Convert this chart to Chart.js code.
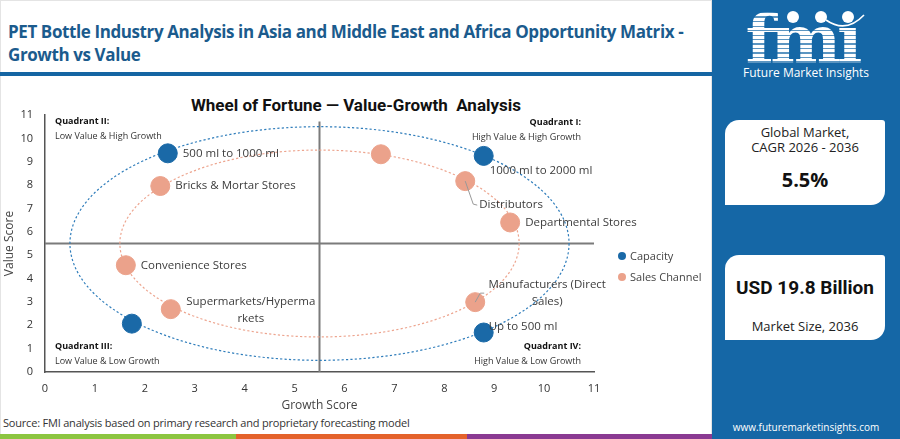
<!DOCTYPE html>
<html><head><meta charset="utf-8">
<script src="https://cdn.jsdelivr.net/npm/chart.js@4.4.1/dist/chart.umd.min.js"></script>
<style>
html,body{margin:0;padding:0;width:900px;height:439px;overflow:hidden;background:#fff;font-family:"Open Sans",sans-serif;}
#left{position:absolute;left:0;top:0;width:712px;height:439px;border:1px solid #e4e4e4;box-sizing:border-box}
#hdr{position:absolute;left:8px;top:20px;font-weight:700;font-size:17px;color:#1b5b8d;line-height:23px;letter-spacing:-0.4px;white-space:nowrap}
#rule{position:absolute;left:0;top:72px;width:712px;height:4px;background:#1565a3}
#ctitle{position:absolute;left:100px;width:512px;text-align:center;top:94px;font-weight:700;font-size:17px;color:#111;font-family:Roboto,sans-serif;line-height:22px}
#chartbox{position:absolute;left:0;top:85px;width:712px;height:330px}
#legend{position:absolute;left:618px;top:245px;font-size:11px;color:#444;font-family:"Open Sans",sans-serif}
#legend div{height:21px;display:flex;align-items:center}
#legend span.d{display:inline-block;width:8px;height:8px;border-radius:50%;margin-right:4px}
#src{position:absolute;left:3px;top:415px;font-size:11px;color:#333;letter-spacing:-0.2px}
.bar{position:absolute;top:434px;height:5px}
#panel{position:absolute;left:712px;top:0;width:188px;height:439px;background:#1567a6}
#logo{position:absolute;left:25px;top:0px;width:130px;text-align:center;font-family:"DejaVu Serif",serif;font-weight:700;font-size:67px;line-height:80px;letter-spacing:-4px;
 background:repeating-linear-gradient(#fff 0 3px, rgba(255,255,255,0.3) 3px 4.5px);-webkit-background-clip:text;background-clip:text;color:transparent}
.dot{position:absolute;width:12px;height:12px;border-radius:50%;background:#fff}
#fmitxt{position:absolute;left:0;width:188px;top:64px;text-align:center;color:#fff;font-size:12px}
.card{position:absolute;left:13px;width:160px;height:85px;background:#fff;border-radius:14px 3px 14px 0;text-align:center;color:#222}
#web{position:absolute;left:0;width:188px;top:420px;text-align:center;color:#fff;font-size:10px}
</style></head>
<body>
<div id="left"></div>
<div id="hdr">PET Bottle Industry Analysis in Asia and Middle East and Africa Opportunity Matrix -<br>Growth vs Value</div>
<div id="rule"></div>
<div id="ctitle">Wheel of Fortune — Value-Growth&nbsp; Analysis</div>
<div id="chartbox"><canvas id="c"></canvas></div>
<div id="legend"></div>
<div id="src">Source: FMI analysis based on primary research and proprietary forecasting model</div>
<div class="bar" style="left:0;width:236px;background:#8cc540"></div>
<div class="bar" style="left:236px;width:231px;background:#e4622b"></div>
<div class="bar" style="left:467px;width:245px;background:#8a3a92"></div>
<div id="panel">
  <div id="logo">fmı</div>
  <div class="dot" style="left:75px;top:11px"></div>
  <div class="dot" style="left:103px;top:11px"></div>
  <div class="dot" style="left:130px;top:11px"></div>
  <svg style="position:absolute;left:0;top:0" width="188" height="40"><path d="M114 20 Q 134 34 152 15" stroke="#fff" stroke-width="1.6" fill="none"/></svg>
  <div id="fmitxt">Future Market Insights</div>
  <div class="card" style="top:120px">
    <div style="font-size:13px;line-height:15px;margin-top:5px">Global Market,<br>CAGR 2026 - 2036</div>
    <div style="font-size:20px;font-weight:700;margin-top:11px;color:#111">5.5%</div>
  </div>
  <div class="card" style="top:255px">
    <div style="font-size:19px;font-weight:700;margin-top:21px;color:#111;font-family:Roboto,sans-serif">USD 19.8 Billion</div>
    <div style="font-size:13px;margin-top:18px">Market Size, 2036</div>
  </div>
  <div id="web">www.futuremarketinsights.com</div>
</div>
<script>
// ---- data ----
const growthTicks = [0,1,2,3,4,5,6,7,8,9,10,11];
const valueTicks = [0,1,2,3,4,5,6,7,8,9,10,11];
const capacityNames  = ["500 ml to 1000 ml", "1000 ml to 2000 ml", "Up to 500 ml", ""];
const capacityGrowth = [2.46, 8.79, 8.79, 1.74];
const capacityValue  = [9.36, 9.25, 1.69, 2.07];
const channelNames  = ["", "Distributors", "Departmental Stores", "Manufacturers (Direct Sales)", "Supermarkets/Hypermarkets", "Convenience Stores", "Bricks & Mortar Stores"];
const channelGrowth = [6.73, 8.42, 9.32, 8.62, 2.52, 1.62, 2.31];
const channelValue  = [9.32, 8.17, 6.40, 2.99, 2.69, 4.57, 7.96];
const quadrantSplit = [5.5, 5.5];
const ringRadii = [5, 4];
const seriesNames = ["Capacity", "Sales Channel"];
const quadrantTitles = ["Quadrant I:", "Quadrant II:", "Quadrant III:", "Quadrant IV:"];
const quadrantNotes = ["High Value & High Growth", "Low Value & High Growth", "Low Value & Low Growth", "High Value & Low Growth"];

// ---- style ----
const BLUE = "#1a69a7", ORANGE = "#eba28b";
const labelPlace = {
  "500 ml to 1000 ml": {dx:15, dy:0, align:"left"},
  "1000 ml to 2000 ml": {dx:6, dy:15, align:"left"},
  "Up to 500 ml": {dx:5, dy:-6, align:"left"},
  "Distributors": {dx:14, dy:24, align:"left", leader:[[0,0],[8,23],[12,24]]},
  "Departmental Stores": {dx:15, dy:0, align:"left"},
  "Manufacturers (Direct Sales)": {dx:72, dy:-17, align:"center", lines:["Manufacturers (Direct","Sales)"], leader:[[0,0],[5,-9],[9,-9]]},
  "Supermarkets/Hypermarkets": {dx:80, dy:-7, align:"center", lines:["Supermarkets/Hyperma","rkets"]},
  "Convenience Stores": {dx:15, dy:0, align:"left"},
  "Bricks & Mortar Stores": {dx:15, dy:0, align:"left"}
};

const leg = document.getElementById('legend');
[BLUE, ORANGE].forEach((c,i)=>{
  const d=document.createElement('div');
  d.innerHTML='<span class="d" style="background:'+c+'"></span>'+seriesNames[i];
  leg.appendChild(d);
});

const decor = {
  id:'decor',
  beforeDatasetsDraw(chart){
    const {ctx, scales:{x,y}} = chart;
    ctx.save();
    ctx.strokeStyle = "#7b7b7b"; ctx.lineWidth = 2;
    const qx = x.getPixelForValue(quadrantSplit[0]), qy = y.getPixelForValue(quadrantSplit[1]);
    ctx.beginPath();
    ctx.moveTo(qx, y.getPixelForValue(0)); ctx.lineTo(qx, y.getPixelForValue(10.72));
    ctx.moveTo(x.getPixelForValue(0), qy); ctx.lineTo(x.getPixelForValue(11), qy);
    ctx.stroke();
    [BLUE, ORANGE].forEach((col,i)=>{
      const r = ringRadii[i];
      const rx = x.getPixelForValue(quadrantSplit[0]+r) - qx;
      const ry = qy - y.getPixelForValue(quadrantSplit[1]+r);
      ctx.beginPath();
      ctx.setLineDash([2.2,2.2]);
      ctx.lineWidth = 1.2;
      ctx.strokeStyle = i===0 ? "#2f7dbb" : "#eda58f";
      ctx.ellipse(qx, qy, rx, ry, 0, 0, Math.PI*2);
      ctx.stroke();
    });
    ctx.setLineDash([]);
    const ql = x.getPixelForValue(0.2), qr = x.getPixelForValue(10.74);
    const put = (t, n, px, yv, align)=>{
      const py = y.getPixelForValue(yv);
      ctx.textAlign = align; ctx.textBaseline = 'middle';
      ctx.fillStyle = "#111"; ctx.font = "bold 9px 'Open Sans', sans-serif";
      ctx.fillText(t, px, py);
      ctx.fillStyle = "#333"; ctx.font = "9px 'Open Sans', sans-serif";
      ctx.fillText(n, px, py + 15);
    };
    put(quadrantTitles[0], quadrantNotes[0], qr, 10.68, 'right');
    put(quadrantTitles[1], quadrantNotes[1], ql, 10.74, 'left');
    put(quadrantTitles[2], quadrantNotes[2], ql, 1.1, 'left');
    put(quadrantTitles[3], quadrantNotes[3], qr, 1.1, 'right');
    ctx.restore();
  },
  afterDatasetsDraw(chart){
    const {ctx} = chart;
    ctx.save();
    ctx.font = "11.5px 'Open Sans', sans-serif";
    ctx.fillStyle = "#3c3c3c";
    ctx.textBaseline = 'middle';
    chart.data.datasets.forEach((ds, di)=>{
      const meta = chart.getDatasetMeta(di);
      ds.names.forEach((name, i)=>{
        if(!name) return;
        const p = labelPlace[name]; if(!p) return;
        const el = meta.data[i];
        if(p.leader){
          ctx.strokeStyle = "#999"; ctx.lineWidth = 1;
          ctx.beginPath();
          p.leader.forEach((q,k)=>{ if(k===0) ctx.moveTo(el.x+q[0], el.y+q[1]); else ctx.lineTo(el.x+q[0], el.y+q[1]); });
          ctx.stroke();
        }
        const lines = p.lines || [name];
        ctx.textAlign = p.align;
        lines.forEach((ln,k)=> ctx.fillText(ln, el.x+p.dx, el.y+p.dy+k*16.5));
      });
    });
    ctx.restore();
  }
};

new Chart(document.getElementById('c'), {
  type:'scatter',
  data:{
    datasets:[
      {label:seriesNames[0], names:capacityNames, data:capacityGrowth.map((g,i)=>({x:g,y:capacityValue[i]})),
       backgroundColor:BLUE, borderColor:BLUE, pointRadius:9.5, pointHoverRadius:9.5},
      {label:seriesNames[1], names:channelNames, data:channelGrowth.map((g,i)=>({x:g,y:channelValue[i]})),
       backgroundColor:ORANGE, borderColor:ORANGE, pointRadius:9.5, pointHoverRadius:9.5}
    ]
  },
  options:{
    responsive:true, maintainAspectRatio:false, animation:false,
    layout:{padding:{left:0, right:118, top:30, bottom:0}},
    plugins:{legend:{display:false}, tooltip:{enabled:false}, title:{display:false}},
    scales:{
      x:{type:'linear', min:growthTicks[0], max:growthTicks[growthTicks.length-1],
         afterBuildTicks(s){ s.ticks = growthTicks.map(v=>({value:v})); },
         afterFit(s){ s.height = 43; },
         grid:{display:false, drawTicks:false}, border:{display:true, color:"#555", width:1.5},
         ticks:{padding:10, color:"#333", font:{size:11, family:"'Open Sans', sans-serif"}},
         title:{display:true, text:"Growth Score", color:"#444", font:{size:12, family:"'Open Sans', sans-serif"}, padding:{top:0,bottom:2}}},
      y:{type:'linear', min:valueTicks[0], max:valueTicks[valueTicks.length-1],
         afterBuildTicks(s){ s.ticks = valueTicks.map(v=>({value:v})); },
         afterFit(s){ s.width = 45; },
         grid:{display:false, drawTicks:false}, border:{display:true, color:"#555", width:1.5},
         ticks:{padding:12, color:"#333", font:{size:11, family:"'Open Sans', sans-serif"}},
         title:{display:true, text:"Value Score", color:"#444", font:{size:12, family:"'Open Sans', sans-serif"}, padding:{top:2,bottom:0}}}
    }
  },
  plugins:[decor]
});
</script>
</body></html>
